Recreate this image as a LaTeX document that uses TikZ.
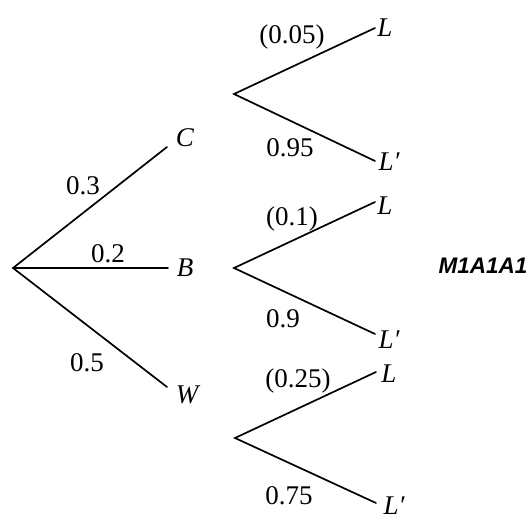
\documentclass[tikz,border=0pt]{standalone}
\usepackage{fontspec}
\setmainfont{Liberation Serif}
\newfontfamily\marksans{Liberation Sans}
\begin{document}
\begin{tikzpicture}[x=1pt,y=-1pt,
  branch/.style={line width=1.7pt, line cap=round, line join=miter},
  prob/.style={font=\fontsize{27}{32}\selectfont, inner sep=0pt},
  outcome/.style={font=\fontsize{27}{32}\selectfont\itshape, inner sep=0pt},
  markstyle/.style={font=\marksans\bfseries\itshape\fontsize{22.5}{27}\selectfont, inner sep=0pt}]
\useasboundingbox (0,0) rectangle (531,519);
% branch points
\coordinate (R) at (13,268);
\coordinate (Ce) at (167,147);
\coordinate (Be) at (168,268);
\coordinate (We) at (167,387);
\coordinate (F1) at (234,94);
\coordinate (F1L) at (375,28);
\coordinate (F1Lp) at (375,161);
\coordinate (F2) at (234,268);
\coordinate (F2L) at (375,202);
\coordinate (F2Lp) at (375,334);
\coordinate (F3) at (235,438);
\coordinate (F3L) at (376,372);
\coordinate (F3Lp) at (376,503);
% branches
\draw[branch] (Ce) -- (R) -- (We);
\draw[branch] (R) -- (Be);
\draw[branch] (F1L) -- (F1) -- (F1Lp);
\draw[branch] (F2L) -- (F2) -- (F2Lp);
\draw[branch] (F3L) -- (F3) -- (F3Lp);
% outcomes
\node[outcome] (C) at (185,138) {C};
\node[outcome] (B) at (185,268) {B};
\node[outcome] (W) at (187,395) {W};
\node[outcome] (L1) at (385,28) {L};
\node[outcome] (L1p) at (389,162) {L′};
\node[outcome] (L2) at (385,206) {L};
\node[outcome] (L2p) at (389,340) {L′};
\node[outcome] (L3) at (389,374) {L};
\node[outcome] (L3p) at (394,506) {L′};
% probabilities
\node[prob] (p005) at (292,37) {(0.05)};
\node[prob] (p095) at (290,148) {0.95};
\node[prob] (p03) at (83,186) {0.3};
\node[prob] (p02) at (108,254) {0.2};
\node[prob] (p05) at (87,363) {0.5};
\node[prob] (p01) at (292,219) {(0.1)};
\node[prob] (p09) at (283,319) {0.9};
\node[prob] (p025) at (298,381) {(0.25)};
\node[prob] (p075) at (289,496) {0.75};
% mark
\node[markstyle] (mark) at (483,266) {M1A1A1};
\end{tikzpicture}
\end{document}
